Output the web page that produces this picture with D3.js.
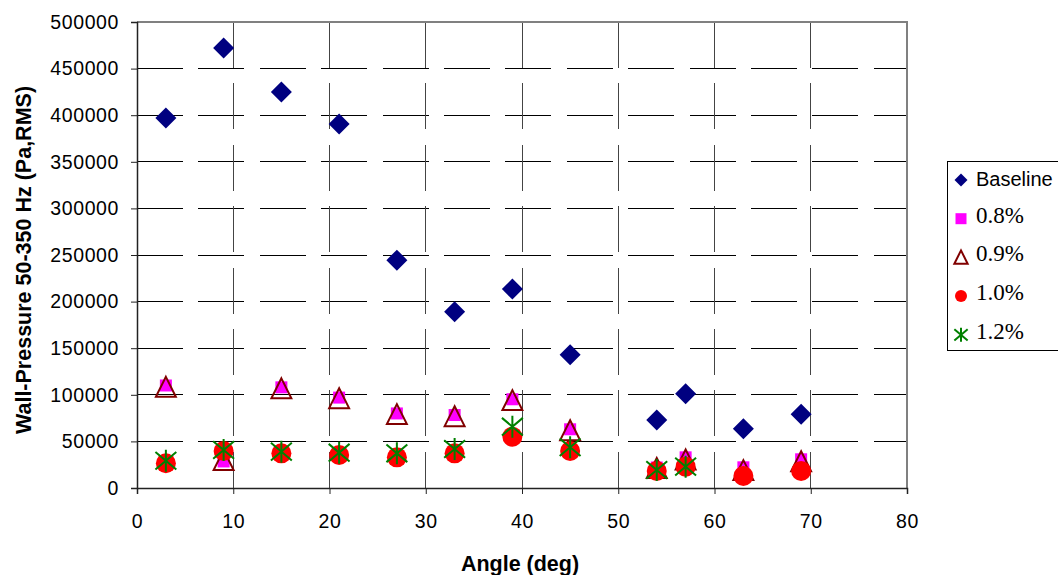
<!DOCTYPE html>
<html>
<head>
<meta charset="utf-8">
<script src="https://cdn.jsdelivr.net/npm/d3@7"></script>
<style>
  html, body { margin: 0; padding: 0; background: #fff; }
  svg { display: block; }
</style>
</head>
<body>
<svg id="chart" width="1058" height="575"></svg>
<script>
// Wall-pressure RMS (50-350 Hz) versus angle for each injection case
const angles = [3, 9, 15, 21, 27, 33, 39, 45, 54, 57, 63, 69];
const baseline = [397000, 472000, 425000, 390500, 244500, 189000, 213500, 143000, 73000, 101000, 63600, 79000];
const pct08 = [110000, 28500, 108000, 97000, 80000, 78300, 95200, 63000, 22000, 32900, 22200, 30800];
const pct09 = [108000, 29500, 106400, 95800, 78700, 76500, 93700, 61400, 21000, 30000, 18600, 28200];
const pct10 = [26500, 39700, 37200, 35400, 32900, 37200, 55100, 39700, 18200, 22900, 12900, 18200];
const pct12Angles = [3, 9, 15, 21, 27, 33, 39, 45, 54, 57];
const pct12 = [29300, 40800, 39000, 37900, 37200, 41800, 65800, 43700, 19300, 22900];

const xTicks = [0, 10, 20, 30, 40, 50, 60, 70, 80];
const yTicks = [0, 50000, 100000, 150000, 200000, 250000, 300000, 350000, 400000, 450000, 500000];
const seriesNames = ["Baseline", "0.8%", "0.9%", "1.0%", "1.2%"];

const svg = d3.select("#chart");
const m = { left: 137, right: 907, top: 22, bottom: 488 };

const x = d3.scaleLinear().domain([0, 80]).range([m.left, m.right]);
const y = d3.scaleLinear().domain([0, 500000]).range([m.bottom, m.top]);

const sans = "'Liberation Sans', Arial, sans-serif";
const serif = "'Liberation Serif', 'Times New Roman', serif";

// dashed grid
const grid = svg.append("g");
grid.selectAll("line.h").data(yTicks.slice(1, -1)).join("line")
  .attr("x1", m.left).attr("x2", m.right)
  .attr("y1", d => y(d)).attr("y2", d => y(d))
  .attr("stroke", "#000").attr("stroke-width", 1)
  .attr("stroke-dasharray", "46,15.4").attr("shape-rendering", "crispEdges");
grid.selectAll("line.v").data(xTicks.slice(1, -1)).join("line")
  .attr("x1", d => x(d)).attr("x2", d => x(d))
  .attr("y1", m.top).attr("y2", m.bottom)
  .attr("stroke", "#444").attr("stroke-width", 1)
  .attr("stroke-dasharray", "46,15.4").attr("shape-rendering", "crispEdges");

// top / right frame
svg.append("path")
  .attr("d", `M${m.left},${m.top}H${m.right}V${m.bottom}`)
  .attr("fill", "none").attr("stroke", "#808080").attr("stroke-width", 1.5)
  .attr("shape-rendering", "crispEdges");

// axes
const xAxis = svg.append("g").attr("transform", `translate(0,${m.bottom})`)
  .call(d3.axisBottom(x).tickValues(xTicks).tickSize(6).tickPadding(20).tickFormat(d3.format("d")));
const yAxis = svg.append("g").attr("transform", `translate(${m.left},0)`)
  .call(d3.axisLeft(y).tickValues(yTicks).tickSize(6).tickPadding(12).tickFormat(d3.format("d")));
[xAxis, yAxis].forEach(a => {
  a.select(".domain").attr("stroke", "#222").attr("stroke-width", 1.5);
  a.selectAll(".tick line").attr("stroke", "#222");
  a.selectAll(".tick text").attr("font-family", sans).attr("font-size", 19.5)
    .attr("letter-spacing", 0.6).attr("fill", "#000");
});

svg.append("text")
  .attr("x", 520).attr("y", 571)
  .attr("text-anchor", "middle").attr("font-family", sans)
  .attr("font-size", 21.5).attr("font-weight", "bold").text("Angle (deg)");
svg.append("text")
  .attr("transform", `translate(31,260) rotate(-90)`)
  .attr("text-anchor", "middle").attr("font-family", sans)
  .attr("font-size", 21.5).attr("font-weight", "bold").text("Wall-Pressure 50-350 Hz (Pa,RMS)");

// marker drawers
const markers = {
  diamond: (g, s) => g.append("path")
    .attr("d", `M0,${-s}L${s},0L0,${s}L${-s},0Z`).attr("fill", "#000080"),
  square: (g, s) => g.append("rect")
    .attr("x", -s).attr("y", -s).attr("width", 2 * s).attr("height", 2 * s).attr("fill", "#FF00FF"),
  triangle: (g, s) => g.append("path")
    .attr("d", `M0,${-s}L${s * 0.95},${s * 0.9}L${-s * 0.95},${s * 0.9}Z`)
    .attr("fill", "none").attr("stroke", "#800000").attr("stroke-width", 2),
  circle: (g, s) => g.append("circle").attr("r", s).attr("fill", "#FF0000"),
  star: (g, s) => g.append("path")
    .attr("d", `M0,${-s}V${s}M${-s * 0.95},${-s * 0.8}L${s * 0.95},${s * 0.8}M${-s * 0.95},${s * 0.8}L${s * 0.95},${-s * 0.8}`)
    .attr("fill", "none").attr("stroke", "#008000").attr("stroke-width", 2)
};

const series = [
  { name: seriesNames[0], xs: angles, ys: baseline, shape: "diamond", size: 10.5, lsize: 6.5 },
  { name: seriesNames[1], xs: angles, ys: pct08, shape: "square", size: 6, lsize: 5.5 },
  { name: seriesNames[2], xs: angles, ys: pct09, shape: "triangle", size: 10.5, lsize: 7 },
  { name: seriesNames[3], xs: angles, ys: pct10, shape: "circle", size: 10, lsize: 6 },
  { name: seriesNames[4], xs: pct12Angles, ys: pct12, shape: "star", size: 11, lsize: 7 }
];

series.forEach(s => {
  const g = svg.append("g");
  s.xs.forEach((a, i) => {
    const p = g.append("g").attr("transform", `translate(${x(a)},${y(s.ys[i])})`);
    markers[s.shape](p, s.size);
  });
});

// legend
const leg = svg.append("g");
leg.append("rect").attr("x", 947.5).attr("y", 161.5).attr("width", 120).attr("height", 189)
  .attr("fill", "#fff").attr("stroke", "#000").attr("stroke-width", 1);
series.forEach((s, i) => {
  const cy = 180 + i * 38.7;
  const p = leg.append("g").attr("transform", `translate(961,${cy})`);
  markers[s.shape](p, s.lsize);
  leg.append("text").attr("x", 976).attr("y", cy + (i === 0 ? 6 : 4))
    .attr("font-family", i === 0 ? sans : serif)
    .attr("font-size", i === 0 ? 20 : 23)
    .attr("fill", "#000").text(s.name);
});
</script>
</body>
</html>
